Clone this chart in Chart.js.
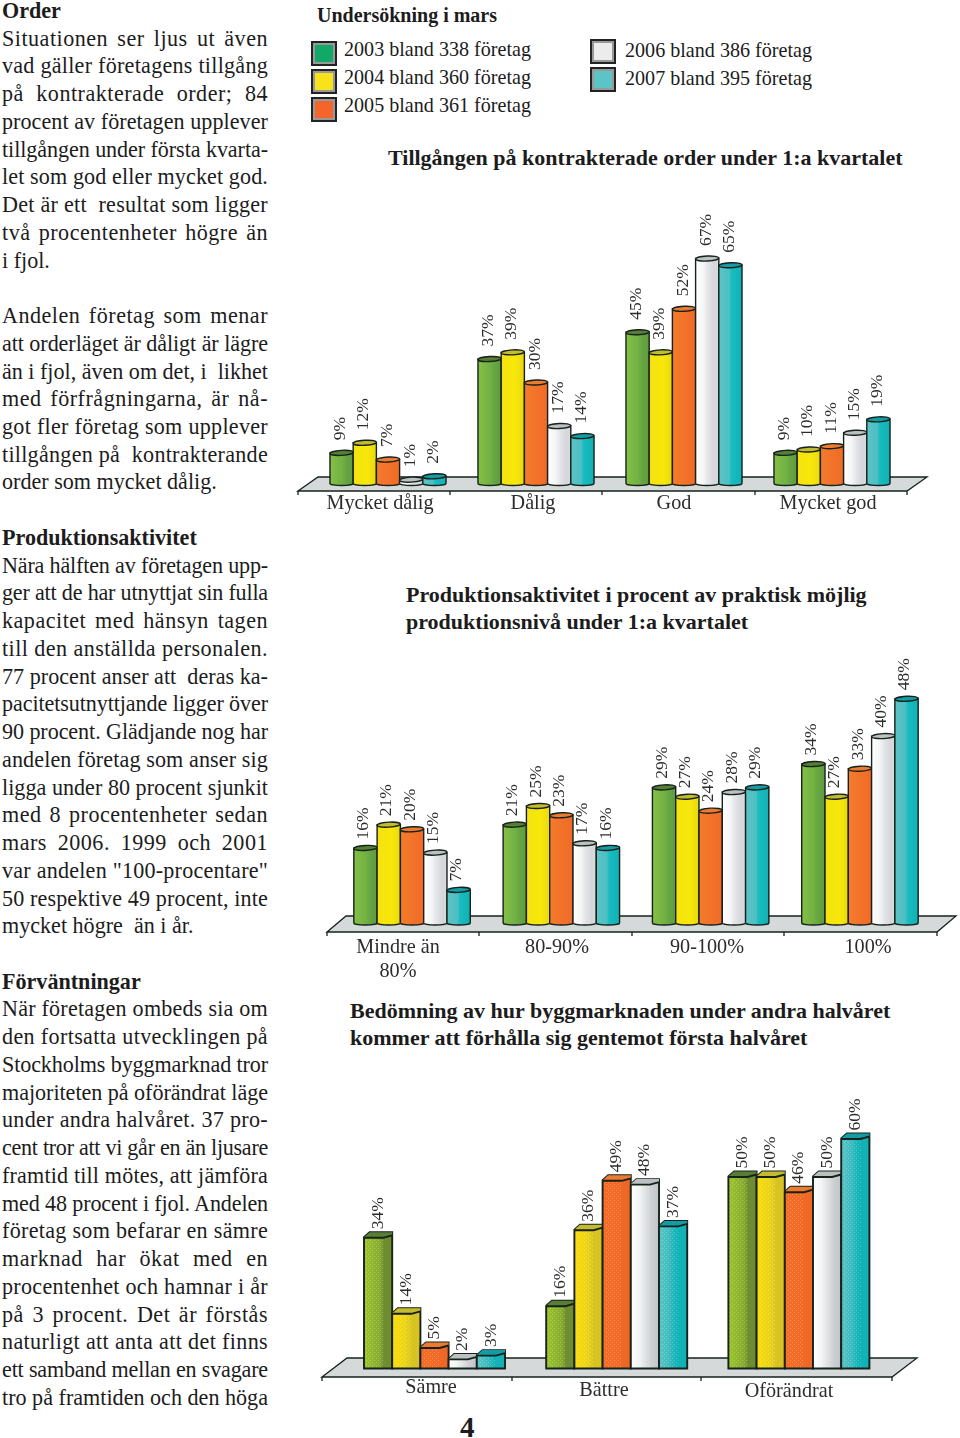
<!DOCTYPE html>
<html>
<head>
<meta charset="utf-8">
<title>Order</title>
<script src="https://cdn.jsdelivr.net/npm/chart.js@4"></script>
<style>
  html, body { margin: 0; padding: 0; background: #fff; }
  body { position: relative; width: 960px; height: 1438px; overflow: hidden; font-family: "Liberation Serif", serif; color: #1c1c1c; }
  canvas { position: absolute; left: 0; }
  #body-text { position: absolute; left: 2px; top: -3px; width: 266px; font-size: 22.1px; line-height: 27.74px; }
  #body-text div { white-space: nowrap; height: 27.74px; }
  #body-text .fill { text-align: justify; text-align-last: justify; white-space: normal; }
  #body-text .head { font-weight: bold; }
  .title { position: absolute; font-weight: bold; white-space: nowrap; font-size: 22px; line-height: 26.5px; }
  .legend-text { position: absolute; font-size: 20.1px; line-height: 24px; white-space: nowrap; }
  .swatch { position: absolute; box-sizing: border-box; width: 26px; height: 25px; border: 2px solid #222; outline: 0; }
  .swatch i { display: block; box-sizing: border-box; width: 100%; height: 100%; border: 2px solid #999; }
</style>
</head>
<body>
<div id="body-text"></div>
<div id="legend"></div>
<div class="title" style="left:317px;top:2px;font-size:20px">Undersökning i mars</div>
<div class="title" style="left:388px;top:145px">Tillgången på kontrakterade order under 1:a kvartalet</div>
<div class="title" style="left:406px;top:582px">Produktionsaktivitet i procent av praktisk möjlig<br>produktionsnivå under 1:a kvartalet</div>
<div class="title" style="left:350px;top:998px">Bedömning av hur byggmarknaden under andra halvåret<br>kommer att förhålla sig gentemot första halvåret</div>
<div class="title" style="left:460px;top:1414px;font-size:29px">4</div>
<canvas id="chart1"></canvas>
<canvas id="chart2"></canvas>
<canvas id="chart3"></canvas>
<script>
// Data
const seriesYears = ["2003", "2004", "2005", "2006", "2007"];
const seriesFirms = [338, 360, 361, 386, 395];

const tillgangLabels = ["Mycket dålig", "Dålig", "God", "Mycket god"];
const tillgang2003 = [9, 37, 45, 9];
const tillgang2004 = [12, 39, 39, 10];
const tillgang2005 = [7, 30, 52, 11];
const tillgang2006 = [1, 17, 67, 15];
const tillgang2007 = [2, 14, 65, 19];

const produktionLabels = [["Mindre än", "80%"], "80-90%", "90-100%", "100%"];
const produktion2003 = [16, 21, 29, 34];
const produktion2004 = [21, 25, 27, 27];
const produktion2005 = [20, 23, 24, 33];
const produktion2006 = [15, 17, 28, 40];
const produktion2007 = [7, 16, 29, 48];

const bedomningLabels = ["Sämre", "Bättre", "Oförändrat"];
const bedomning2003 = [34, 16, 50];
const bedomning2004 = [14, 36, 50];
const bedomning2005 = [5, 49, 46];
const bedomning2006 = [2, 48, 50];
const bedomning2007 = [3, 37, 60];

const bodyLines = [
  "#Order",
  "Situationen ser ljus ut även",
  "vad gäller företagens tillgång",
  "på kontrakterade order; 84",
  "procent av företagen upplever",
  "tillgången under första kvarta-",
  "let som god eller mycket god.",
  "Det är ett  resultat som ligger",
  "två procentenheter högre än",
  "<i fjol.",
  "",
  "Andelen företag som menar",
  "att orderläget är dåligt är lägre",
  "än i fjol, även om det, i  likhet",
  "med förfrågningarna, är nå-",
  "got fler företag som upplever",
  "tillgången på  kontrakterande",
  "<order som mycket dålig.",
  "",
  "#Produktionsaktivitet",
  "Nära hälften av företagen upp-",
  "ger att de har utnyttjat sin fulla",
  "kapacitet med hänsyn tagen",
  "till den anställda personalen.",
  "77 procent anser att  deras ka-",
  "pacitetsutnyttjande ligger över",
  "90 procent. Glädjande nog har",
  "andelen företag som anser sig",
  "ligga under 80 procent sjunkit",
  "med 8 procentenheter sedan",
  "mars 2006. 1999 och 2001",
  "var andelen \"100-procentare\"",
  "50 respektive 49 procent, inte",
  "<mycket högre  än i år.",
  "",
  "#Förväntningar",
  "När företagen ombeds sia om",
  "den fortsatta utvecklingen på",
  "Stockholms byggmarknad tror",
  "majoriteten på oförändrat läge",
  "under andra halvåret. 37 pro-",
  "cent tror att vi går en än ljusare",
  "framtid till mötes, att jämföra",
  "med 48 procent i fjol. Andelen",
  "företag som befarar en sämre",
  "marknad har ökat med en",
  "procentenhet och hamnar i år",
  "på 3 procent. Det är förstås",
  "naturligt att anta att det finns",
  "ett samband mellan en svagare",
  "tro på framtiden och den höga"
];

const seriesColors = ["#6fb043", "#f6e30d", "#f2702a", "#e8e9eb", "#1fbcc0"];
const capColors = ["#587d35", "#c5bb2e", "#ee7a30", "#bcc0c0", "#149ca4"];
const swatchColors = ["#12a868", "#f7e21b", "#f4652c", "#ececec", "#5cc4c4"];
const bodyStops = [
  [[0, "#86c045"], [0.5, "#72b244"], [0.7, "#68a542"], [1, "#5f9a40"]],
  [[0, "#f4e210"], [0.6, "#f8e80a"], [1, "#e8d812"]],
  [[0, "#f47c2c"], [1, "#f06a27"]],
  [[0, "#ffffff"], [0.35, "#f4f5f6"], [0.55, "#e3e4e8"], [0.8, "#d5d7da"], [1, "#d8dadd"]],
  [[0, "#5cc4c6"], [0.45, "#4dbfc2"], [0.55, "#18bcc0"], [1, "#12b0b4"]]
];
const flatStops = [
  [[0, "#9cc62b"], [0.55, "#86ab2e"], [0.7, "#6f8d30"], [1, "#6f8d30"]],
  [[0, "#fbdc0a"], [0.45, "#ecd414"], [0.7, "#d8c322"], [1, "#d8c322"]],
  [[0, "#f56d25"], [1, "#ee6624"]],
  [[0, "#ffffff"], [0.3, "#f2f3f4"], [0.7, "#cfd2d5"], [1, "#c0c3c7"]],
  [[0, "#5cc4c6"], [0.35, "#3fbcc0"], [0.6, "#12b4b8"], [1, "#12b0b4"]]
];
const lineColor = "#16221c";
const textColor = "#2c2c2c";
const floorColor = "#d6d9d9";

// Body text: each column line is stretched to the full column width
const bodyText = document.getElementById("body-text");
const columnWidth = 266;
bodyLines.forEach((line) => {
  const div = document.createElement("div");
  const kind = line.charAt(0);
  const text = (kind === "#" || kind === "<" ? line.slice(1) : line).replace(/  /g, "\u00a0 ");
  if (kind === "#") div.className = "head";
  const span = document.createElement("span");
  span.textContent = text;
  div.appendChild(span);
  bodyText.appendChild(div);
  if (text && kind !== "#" && kind !== "<") {
    const diff = columnWidth - span.getBoundingClientRect().width;
    const spacing = Math.min(diff / text.length, 0.5);
    div.style.letterSpacing = spacing.toFixed(3) + "px";
    if (diff > 0) div.className = "fill";
  }
});

// Legend
const legendEl = document.getElementById("legend");
const legendSpots = [[310.5, 41, 344, 37], [310.5, 69, 344, 65], [310.5, 97, 344, 93], [590, 39, 625, 38], [590, 67, 625, 66]];
seriesYears.forEach((year, i) => {
  const [sx, sy, tx, ty] = legendSpots[i];
  legendEl.insertAdjacentHTML("beforeend",
    `<div class="swatch" style="left:${sx}px;top:${sy}px"><i style="background:${swatchColors[i]}"></i></div>` +
    `<div class="legend-text" style="left:${tx}px;top:${ty}px">${year} bland ${seriesFirms[i]} företag</div>`);
});

function drawFloor(ctx, f) {
  ctx.save();
  ctx.beginPath();
  ctx.moveTo(f.x0, f.bottom);
  ctx.lineTo(f.x0 + f.skew, f.top);
  ctx.lineTo(f.x1 + f.skew, f.top);
  ctx.lineTo(f.x1, f.bottom);
  ctx.closePath();
  ctx.fillStyle = floorColor;
  ctx.fill();
  ctx.strokeStyle = lineColor;
  ctx.lineWidth = 1.3;
  ctx.stroke();
  f.ticks.forEach((x) => {
    ctx.beginPath();
    ctx.moveTo(x, f.bottom);
    ctx.lineTo(x, f.bottom + 4);
    ctx.stroke();
  });
  ctx.restore();
}

function barGradient(ctx, x0, x1, stops) {
  const g = ctx.createLinearGradient(x0, 0, x1, 0);
  stops.forEach(([p, c]) => g.addColorStop(p, c));
  return g;
}

function stipple(ctx) {
  const c = document.createElement("canvas");
  c.width = 4;
  c.height = 4;
  const p = c.getContext("2d");
  p.fillStyle = "rgba(255,255,255,0.28)";
  p.fillRect(0, 0, 1, 1);
  p.fillRect(2, 2, 1, 1);
  return ctx.createPattern(c, "repeat");
}

function drawCylinder(ctx, el, s, capH) {
  const x0 = el.x - el.width / 2;
  const x1 = el.x + el.width / 2;
  const top = el.y - capH / 2;
  ctx.beginPath();
  ctx.moveTo(x0, top);
  ctx.lineTo(x0, el.base - 2);
  ctx.ellipse(el.x, el.base - 2, el.width / 2, 2, 0, Math.PI, 0, true);
  ctx.lineTo(x1, top);
  ctx.closePath();
  ctx.fillStyle = barGradient(ctx, x0, x1, bodyStops[s]);
  ctx.fill();
  ctx.lineWidth = 1.4;
  ctx.strokeStyle = lineColor;
  ctx.stroke();
  ctx.beginPath();
  ctx.ellipse(el.x, top, el.width / 2, capH / 2, -0.05, 0, Math.PI * 2);
  ctx.fillStyle = capColors[s];
  ctx.fill();
  ctx.stroke();
}

function drawBlock(ctx, el, s, capH) {
  const x0 = el.x - el.width / 2;
  const x1 = el.x + el.width / 2;
  const t = el.y - capH;
  ctx.beginPath();
  ctx.moveTo(x0, el.base);
  ctx.lineTo(x0, t + 5);
  ctx.lineTo(x0 + el.width * 0.2, t);
  ctx.lineTo(x1, t);
  ctx.lineTo(x1, el.base);
  ctx.closePath();
  ctx.fillStyle = barGradient(ctx, x0, x1, flatStops[s]);
  ctx.fill();
  if (el.base - t > 10) {
    ctx.fillStyle = stipple(ctx);
    ctx.fillRect(x0 + 2, t + 7, el.width * 0.62, el.base - t - 8);
  }
  ctx.lineWidth = 1.9;
  ctx.strokeStyle = lineColor;
  ctx.stroke();
  // top face
  ctx.beginPath();
  ctx.moveTo(x0, t + 5);
  ctx.lineTo(x0 + el.width * 0.2, t);
  ctx.lineTo(x1, t);
  ctx.lineTo(x1, t + 3);
  ctx.lineTo(x0 + el.width * 0.68, t + 5.5);
  ctx.closePath();
  ctx.fillStyle = capColors[s];
  ctx.fill();
  ctx.beginPath();
  ctx.moveTo(x0, t + 5.5);
  ctx.lineTo(x0 + el.width * 0.68, t + 5.5);
  ctx.lineTo(x1, t + 3);
  ctx.stroke();
}

// Draws the floor, the 3D bar bodies, the rotated values and the group names
const depthPlugin = {
  id: "depth",
  beforeDatasetsDraw(chart, args, o) {
    drawFloor(chart.ctx, o.floor);
  },
  afterDatasetsDraw(chart, args, o) {
    const ctx = chart.ctx;
    chart.data.datasets.forEach((ds, s) => {
      chart.getDatasetMeta(s).data.forEach((el, i) => {
        if (o.block) drawBlock(ctx, el, s, o.capH);
        else drawCylinder(ctx, el, s, o.capH);
        ctx.save();
        ctx.translate(el.x + o.labelDx, el.y - o.capH - o.labelGap);
        ctx.rotate(-Math.PI / 2);
        ctx.font = "17.5px 'Liberation Serif'";
        ctx.fillStyle = textColor;
        ctx.textAlign = "left";
        ctx.textBaseline = "middle";
        ctx.fillText(ds.data[i] + "%", 0, 0);
        ctx.restore();
      });
    });
    ctx.save();
    ctx.font = "20.2px 'Liberation Serif'";
    ctx.fillStyle = textColor;
    ctx.textAlign = "center";
    ctx.textBaseline = "middle";
    chart.data.labels.forEach((label, i) => {
      const lines = Array.isArray(label) ? label : [label];
      lines.forEach((text, n) => {
        ctx.fillText(text, o.labelX[i], o.labelY[i] + n * 24);
      });
    });
    ctx.restore();
  }
};

function makeChart(id, labels, values, cfg) {
  const canvas = document.getElementById(id);
  canvas.width = 960;
  canvas.height = cfg.height;
  canvas.style.top = cfg.top + "px";
  canvas.style.width = "960px";
  canvas.style.height = cfg.height + "px";
  const shift = (f) => ({
    ...f,
    top: f.top - cfg.top,
    bottom: f.bottom - cfg.top
  });
  return new Chart(canvas.getContext("2d"), {
    type: "bar",
    data: {
      labels: labels,
      datasets: values.map((data, i) => ({
        label: seriesYears[i],
        data: data,
        backgroundColor: seriesColors[i],
        categoryPercentage: cfg.catPct,
        barPercentage: 1
      }))
    },
    options: {
      responsive: false,
      animation: false,
      events: [],
      layout: { padding: cfg.padding },
      plugins: {
        legend: { display: false },
        tooltip: { enabled: false },
        depth: {
          floor: shift(cfg.floor),
          capH: cfg.capH,
          block: cfg.block,
          labelDx: cfg.labelDx,
          labelGap: cfg.labelGap,
          labelX: cfg.labelX,
          labelY: cfg.labelY.map((y) => y - cfg.top)
        }
      },
      scales: {
        x: { display: false },
        y: { display: false, min: 0, max: cfg.yMax }
      }
    },
    plugins: [depthPlugin]
  });
}

makeChart("chart1", tillgangLabels,
  [tillgang2003, tillgang2004, tillgang2005, tillgang2006, tillgang2007], {
    top: 190, height: 330, yMax: 80, catPct: 0.784, capH: 5, block: false,
    padding: { left: 314, right: 54, top: 27.5, bottom: 34.5 },
    labelDx: -1, labelGap: 10,
    labelX: [380, 533, 674, 828], labelY: [504, 504, 504, 504],
    floor: { x0: 298, x1: 907, skew: 20, top: 477, bottom: 491, ticks: [298, 450, 602, 755, 907] }
  });

makeChart("chart2", produktionLabels,
  [produktion2003, produktion2004, produktion2005, produktion2006, produktion2007], {
    top: 650, height: 340, yMax: 50, catPct: 0.78, capH: 5, block: false,
    padding: { left: 337.4, right: 25.4, top: 42, bottom: 65 },
    labelDx: -2, labelGap: 6,
    labelX: [398, 557, 707, 868], labelY: [948, 948, 948, 948],
    floor: { x0: 327, x1: 937, skew: 19, top: 916, bottom: 932, ticks: [327, 479, 632, 784, 937] }
  });

makeChart("chart3", bedomningLabels,
  [bedomning2003, bedomning2004, bedomning2005, bedomning2006, bedomning2007], {
    top: 1070, height: 368, yMax: 65, catPct: 0.774, capH: 7, block: true,
    padding: { left: 343.4, right: 70, top: 51.5, bottom: 69.5 },
    labelDx: 0, labelGap: 3,
    labelX: [431, 604, 789], labelY: [1388, 1391, 1392],
    floor: { x0: 322, x1: 892, skew: 25, top: 1358, bottom: 1377, ticks: [322, 512, 701, 892] }
  });
</script>
</body>
</html>
